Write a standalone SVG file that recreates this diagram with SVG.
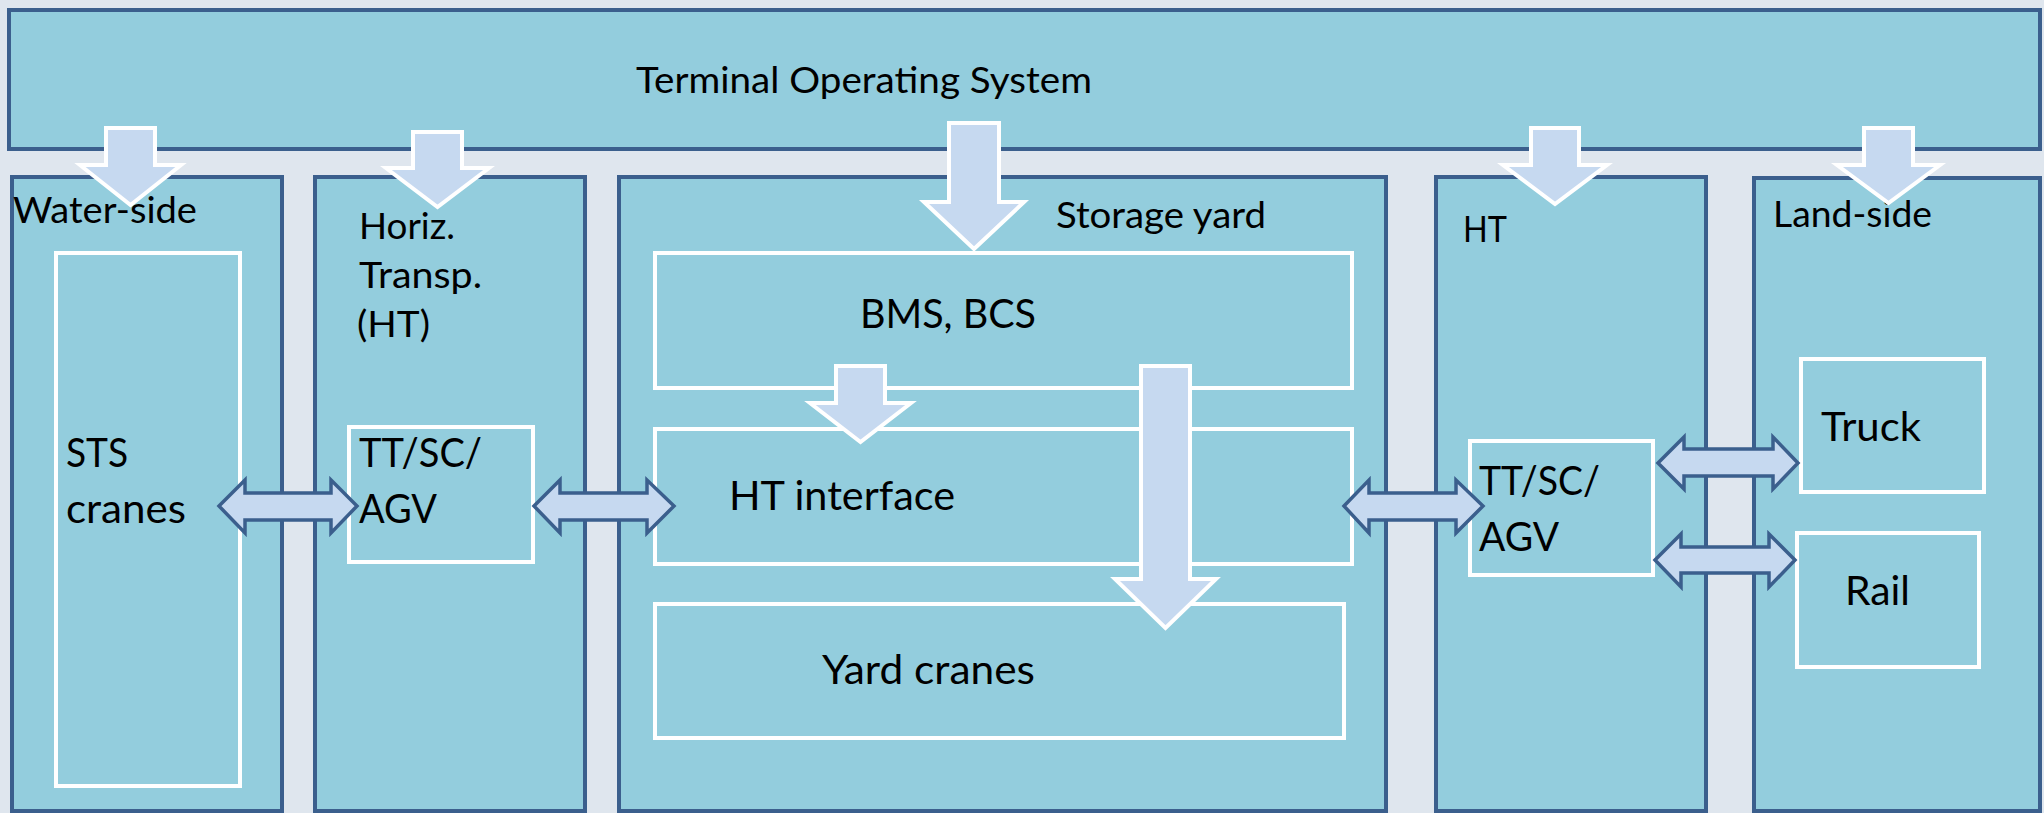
<svg xmlns="http://www.w3.org/2000/svg" width="2044" height="813" viewBox="0 0 2044 813">
<style>
.col{fill:#93CDDD;stroke:#3B5F8D;stroke-width:4}
.inner{fill:#93CDDD;stroke:#FFFFFF;stroke-width:4}
.down{fill:#C6D9F0;stroke:#FFFFFF;stroke-width:4;stroke-linejoin:miter}
.dbl{fill:#C6D9F0;stroke:#3B5F8D;stroke-width:3.5;stroke-linejoin:miter}
text{font-family:Lato,"Liberation Sans",sans-serif;fill:#000000}
.lbl{font-size:36px}
.big{font-size:40px}
</style>
<rect x="0" y="0" width="2044" height="813" fill="#DFE6EE"/>
<g id="tos">
<rect class="col" x="9" y="10" width="2031" height="139"/>
<text class="lbl" x="636" y="93" textLength="456" lengthAdjust="spacingAndGlyphs">Terminal Operating System</text>
</g>
<g id="water-side">
<rect class="col" x="12" y="177" width="270" height="634"/>
<text class="lbl" x="13" y="223" textLength="184" lengthAdjust="spacingAndGlyphs">Water-side</text>
</g>
<g id="horiz">
<rect class="col" x="315" y="177" width="270" height="634"/>
<text class="lbl" x="359" y="239" textLength="96" lengthAdjust="spacingAndGlyphs">Horiz.</text>
<text class="lbl" x="359" y="288" textLength="123" lengthAdjust="spacingAndGlyphs">Transp.</text>
<text class="lbl" x="357" y="337" textLength="73" lengthAdjust="spacingAndGlyphs">(HT)</text>
</g>
<g id="storage-yard">
<rect class="col" x="619" y="177" width="767" height="634"/>
<text class="lbl" x="1056" y="228" textLength="210" lengthAdjust="spacingAndGlyphs">Storage yard</text>
</g>
<g id="ht">
<rect class="col" x="1436" y="177" width="270" height="634"/>
<text class="lbl" x="1463" y="242" textLength="44" lengthAdjust="spacingAndGlyphs">HT</text>
</g>
<g id="land-side">
<rect class="col" x="1754" y="178" width="286" height="633"/>
<text class="lbl" x="1773" y="227" textLength="159" lengthAdjust="spacingAndGlyphs">Land-side</text>
</g>
<g id="sts-cranes">
<rect class="inner" x="56" y="253" width="184" height="533"/>
<text class="big" x="66" y="467" textLength="62" lengthAdjust="spacingAndGlyphs">STS</text>
<text class="big" x="66" y="523" textLength="120" lengthAdjust="spacingAndGlyphs">cranes</text>
</g>
<g id="tt-left">
<rect class="inner" x="349" y="427" width="184" height="135"/>
<text class="big" x="359" y="467" textLength="123" lengthAdjust="spacingAndGlyphs">TT/SC/</text>
<text class="big" x="359" y="523" textLength="78" lengthAdjust="spacingAndGlyphs">AGV</text>
</g>
<g id="bms">
<rect class="inner" x="655" y="253" width="697" height="135"/>
<text class="big" x="860" y="328" textLength="176" lengthAdjust="spacingAndGlyphs">BMS, BCS</text>
</g>
<g id="ht-interface">
<rect class="inner" x="655" y="429" width="697" height="135"/>
<text class="big" x="729" y="510" textLength="226" lengthAdjust="spacingAndGlyphs">HT interface</text>
</g>
<g id="yard-cranes">
<rect class="inner" x="655" y="604" width="689" height="134"/>
<text class="big" x="822" y="684" textLength="213" lengthAdjust="spacingAndGlyphs">Yard cranes</text>
</g>
<g id="tt-right">
<rect class="inner" x="1470" y="441" width="183" height="134"/>
<text class="big" x="1479" y="495" textLength="121" lengthAdjust="spacingAndGlyphs">TT/SC/</text>
<text class="big" x="1479" y="551" textLength="80" lengthAdjust="spacingAndGlyphs">AGV</text>
</g>
<g id="truck">
<rect class="inner" x="1801" y="359" width="183" height="133"/>
<text class="big" x="1821" y="441" textLength="100" lengthAdjust="spacingAndGlyphs">Truck</text>
</g>
<g id="rail">
<rect class="inner" x="1797" y="533" width="182" height="134"/>
<text class="big" x="1845" y="605" textLength="65" lengthAdjust="spacingAndGlyphs">Rail</text>
</g>
<g id="connectors">
<polygon class="down" points="106,128 155,128 155,165 181,165 130.5,205 80,165 106,165"/>
<polygon class="down" points="413,132 462,132 462,168 489,168 437.5,207 386,168 413,168"/>
<polygon class="down" points="949,123 999,123 999,202 1024,202 974,249 924,202 949,202"/>
<polygon class="down" points="1531,128 1579,128 1579,165 1607,165 1555,204 1503,165 1531,165"/>
<polygon class="down" points="1864,128 1913,128 1913,165 1940,165 1888.5,203 1837,165 1864,165"/>
<polygon class="down" points="836,366 885,366 885,403 911,403 860.5,442 810,403 836,403"/>
<polygon class="down" points="1141,366 1190,366 1190,579 1216,579 1165.5,628 1115,579 1141,579"/>
<polygon class="dbl" points="219,506 245,480 245,493 331,493 331,480 357,506 331,533 331,520 245,520 245,533"/>
<polygon class="dbl" points="534,506 560,480 560,493 647,493 647,480 674,506 647,533 647,520 560,520 560,533"/>
<polygon class="dbl" points="1344,506 1369,480 1369,493 1456,493 1456,480 1483,506 1456,533 1456,520 1369,520 1369,533"/>
<polygon class="dbl" points="1658,463 1684,437 1684,449 1773,449 1773,437 1798,463 1773,489 1773,476 1684,476 1684,489"/>
<polygon class="dbl" points="1655,560 1681,534 1681,547 1769,547 1769,534 1795,560 1769,587 1769,573 1681,573 1681,587"/>
</g>
</svg>
